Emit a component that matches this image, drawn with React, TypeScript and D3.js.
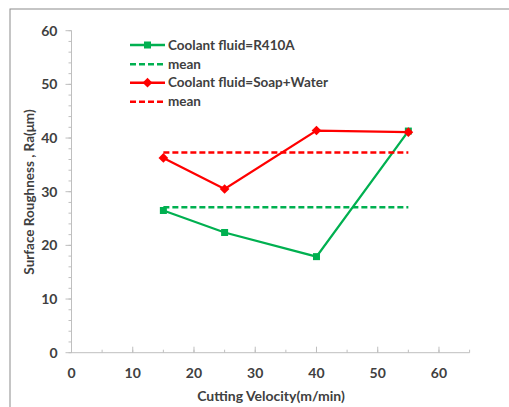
import React from "react";
import * as d3 from "d3";

const velocities = [15, 25, 40, 55];
const r410a = [26.5, 22.4, 17.9, 41.3];
const soapWater = [36.3, 30.5, 41.4, 41.1];
const r410aMean = 27.1;
const soapMean = 37.3;
const xTicks = [0, 10, 20, 30, 40, 50, 60];
const yTicks = [0, 10, 20, 30, 40, 50, 60];
const legendLabels = ["Coolant fluid=R410A", "mean", "Coolant fluid=Soap+Water", "mean"];

const GREEN = "#00b050";
const RED = "#ff0000";
const FONT = "Lato, 'Open Sans', sans-serif";

export default function App() {
  const W = 509, H = 407;
  const x = d3.scaleLinear().domain([0, 65]).range([71.5, 469.6]);
  const y = d3.scaleLinear().domain([0, 60]).range([352.7, 30.7]);
  const line = d3.line<number>().x((_, i) => x(velocities[i])).y((d) => y(d));
  const xMinor = d3.range(0, 66, 5);
  const yMinor = d3.range(0, 61, 2);
  const axisColor = "#bfbfbf";
  const textColor = "#404040";
  const diamond = d3.symbol().type(d3.symbolDiamond2).size(60)();
  const meanX0 = x(velocities[0]);
  const meanX1 = x(velocities[velocities.length - 1]);
  const legendRows = [45, 64.3, 82.7, 101.7];
  const legendColors = [GREEN, GREEN, RED, RED];
  return (
    <svg width={W} height={H} style={{ position: "absolute", left: 0, top: 0, background: "#fff" }}>
      <rect x={10} y={9} width={520} height={420} fill="#fff" stroke="#8c8c8c" strokeWidth={1} />
      {/* y axis */}
      <line x1={x(0)} x2={x(0)} y1={y(0)} y2={y(60)} stroke={axisColor} strokeWidth={1} />
      {yMinor.map((v) => (
        <line key={"ym" + v} x1={x(0) - 3} x2={x(0)} y1={y(v)} y2={y(v)} stroke={axisColor} />
      ))}
      {yTicks.map((v) => (
        <g key={"yt" + v}>
          <line x1={x(0) - 6} x2={x(0)} y1={y(v)} y2={y(v)} stroke={axisColor} />
          <text x={x(0) - 14} y={y(v)} dy="0.35em" textAnchor="end" fontFamily={FONT} fontWeight={700} fontSize={14} fill={textColor}>{v}</text>
        </g>
      ))}
      {/* x axis */}
      <line x1={x(0)} x2={x(65)} y1={y(0)} y2={y(0)} stroke={axisColor} strokeWidth={1} />
      {xMinor.map((v) => (
        <line key={"xm" + v} x1={x(v)} x2={x(v)} y1={y(0)} y2={y(0) - 3} stroke={axisColor} />
      ))}
      {xTicks.map((v) => (
        <g key={"xt" + v}>
          <line x1={x(v)} x2={x(v)} y1={y(0) - 6} y2={y(0)} stroke={axisColor} />
          <text x={x(v)} y={373} dy="0.35em" textAnchor="middle" fontFamily={FONT} fontWeight={700} fontSize={14} fill={textColor}>{v}</text>
        </g>
      ))}
      <text x={271} y={396} dy="0.35em" textAnchor="middle" fontFamily={FONT} fontWeight={700} fontSize={14} fill={textColor}>Cutting Velocity(m/min)</text>
      <text transform={`translate(29,192) rotate(-90)`} dy="0.35em" textAnchor="middle" fontFamily={FONT} fontWeight={700} fontSize={13.5} fill={textColor}>Surface Roughness , Ra(μm)</text>
      {/* R410A series and mean */}
      <path d={line(r410a) || ""} fill="none" stroke={GREEN} strokeWidth={2.25} />
      {r410a.map((v, i) => (
        <rect key={"r" + i} x={x(velocities[i]) - 3.5} y={y(v) - 3.5} width={7} height={7} fill={GREEN} />
      ))}
      <line x1={meanX0} x2={meanX1} y1={y(r410aMean)} y2={y(r410aMean)} stroke={GREEN} strokeWidth={2.5} strokeDasharray="6,3" />
      {/* Soap+Water series and mean */}
      <path d={line(soapWater) || ""} fill="none" stroke={RED} strokeWidth={2.25} />
      {soapWater.map((v, i) => (
        <path key={"sw" + i} d={diamond || ""} transform={`translate(${x(velocities[i])},${y(v)})`} fill={RED} />
      ))}
      <line x1={meanX0} x2={meanX1} y1={y(soapMean)} y2={y(soapMean)} stroke={RED} strokeWidth={2.5} strokeDasharray="6,3" />
      {/* legend */}
      {legendLabels.map((lab, i) => {
        const yy = legendRows[i];
        const dashed = i % 2 === 1;
        return (
          <g key={"lg" + i}>
            <line x1={130} x2={165} y1={yy} y2={yy} stroke={legendColors[i]} strokeWidth={2.5} strokeDasharray={dashed ? "6,3" : undefined} />
            {i === 0 && <rect x={147.5 - 3.5} y={yy - 3.5} width={7} height={7} fill={GREEN} />}
            {i === 2 && <path d={diamond || ""} transform={`translate(147.5,${yy})`} fill={RED} />}
            <text x={168} y={yy} dy="0.35em" fontFamily={FONT} fontWeight={700} fontSize={13.5} fill={textColor}>{lab}</text>
          </g>
        );
      })}
    </svg>
  );
}
